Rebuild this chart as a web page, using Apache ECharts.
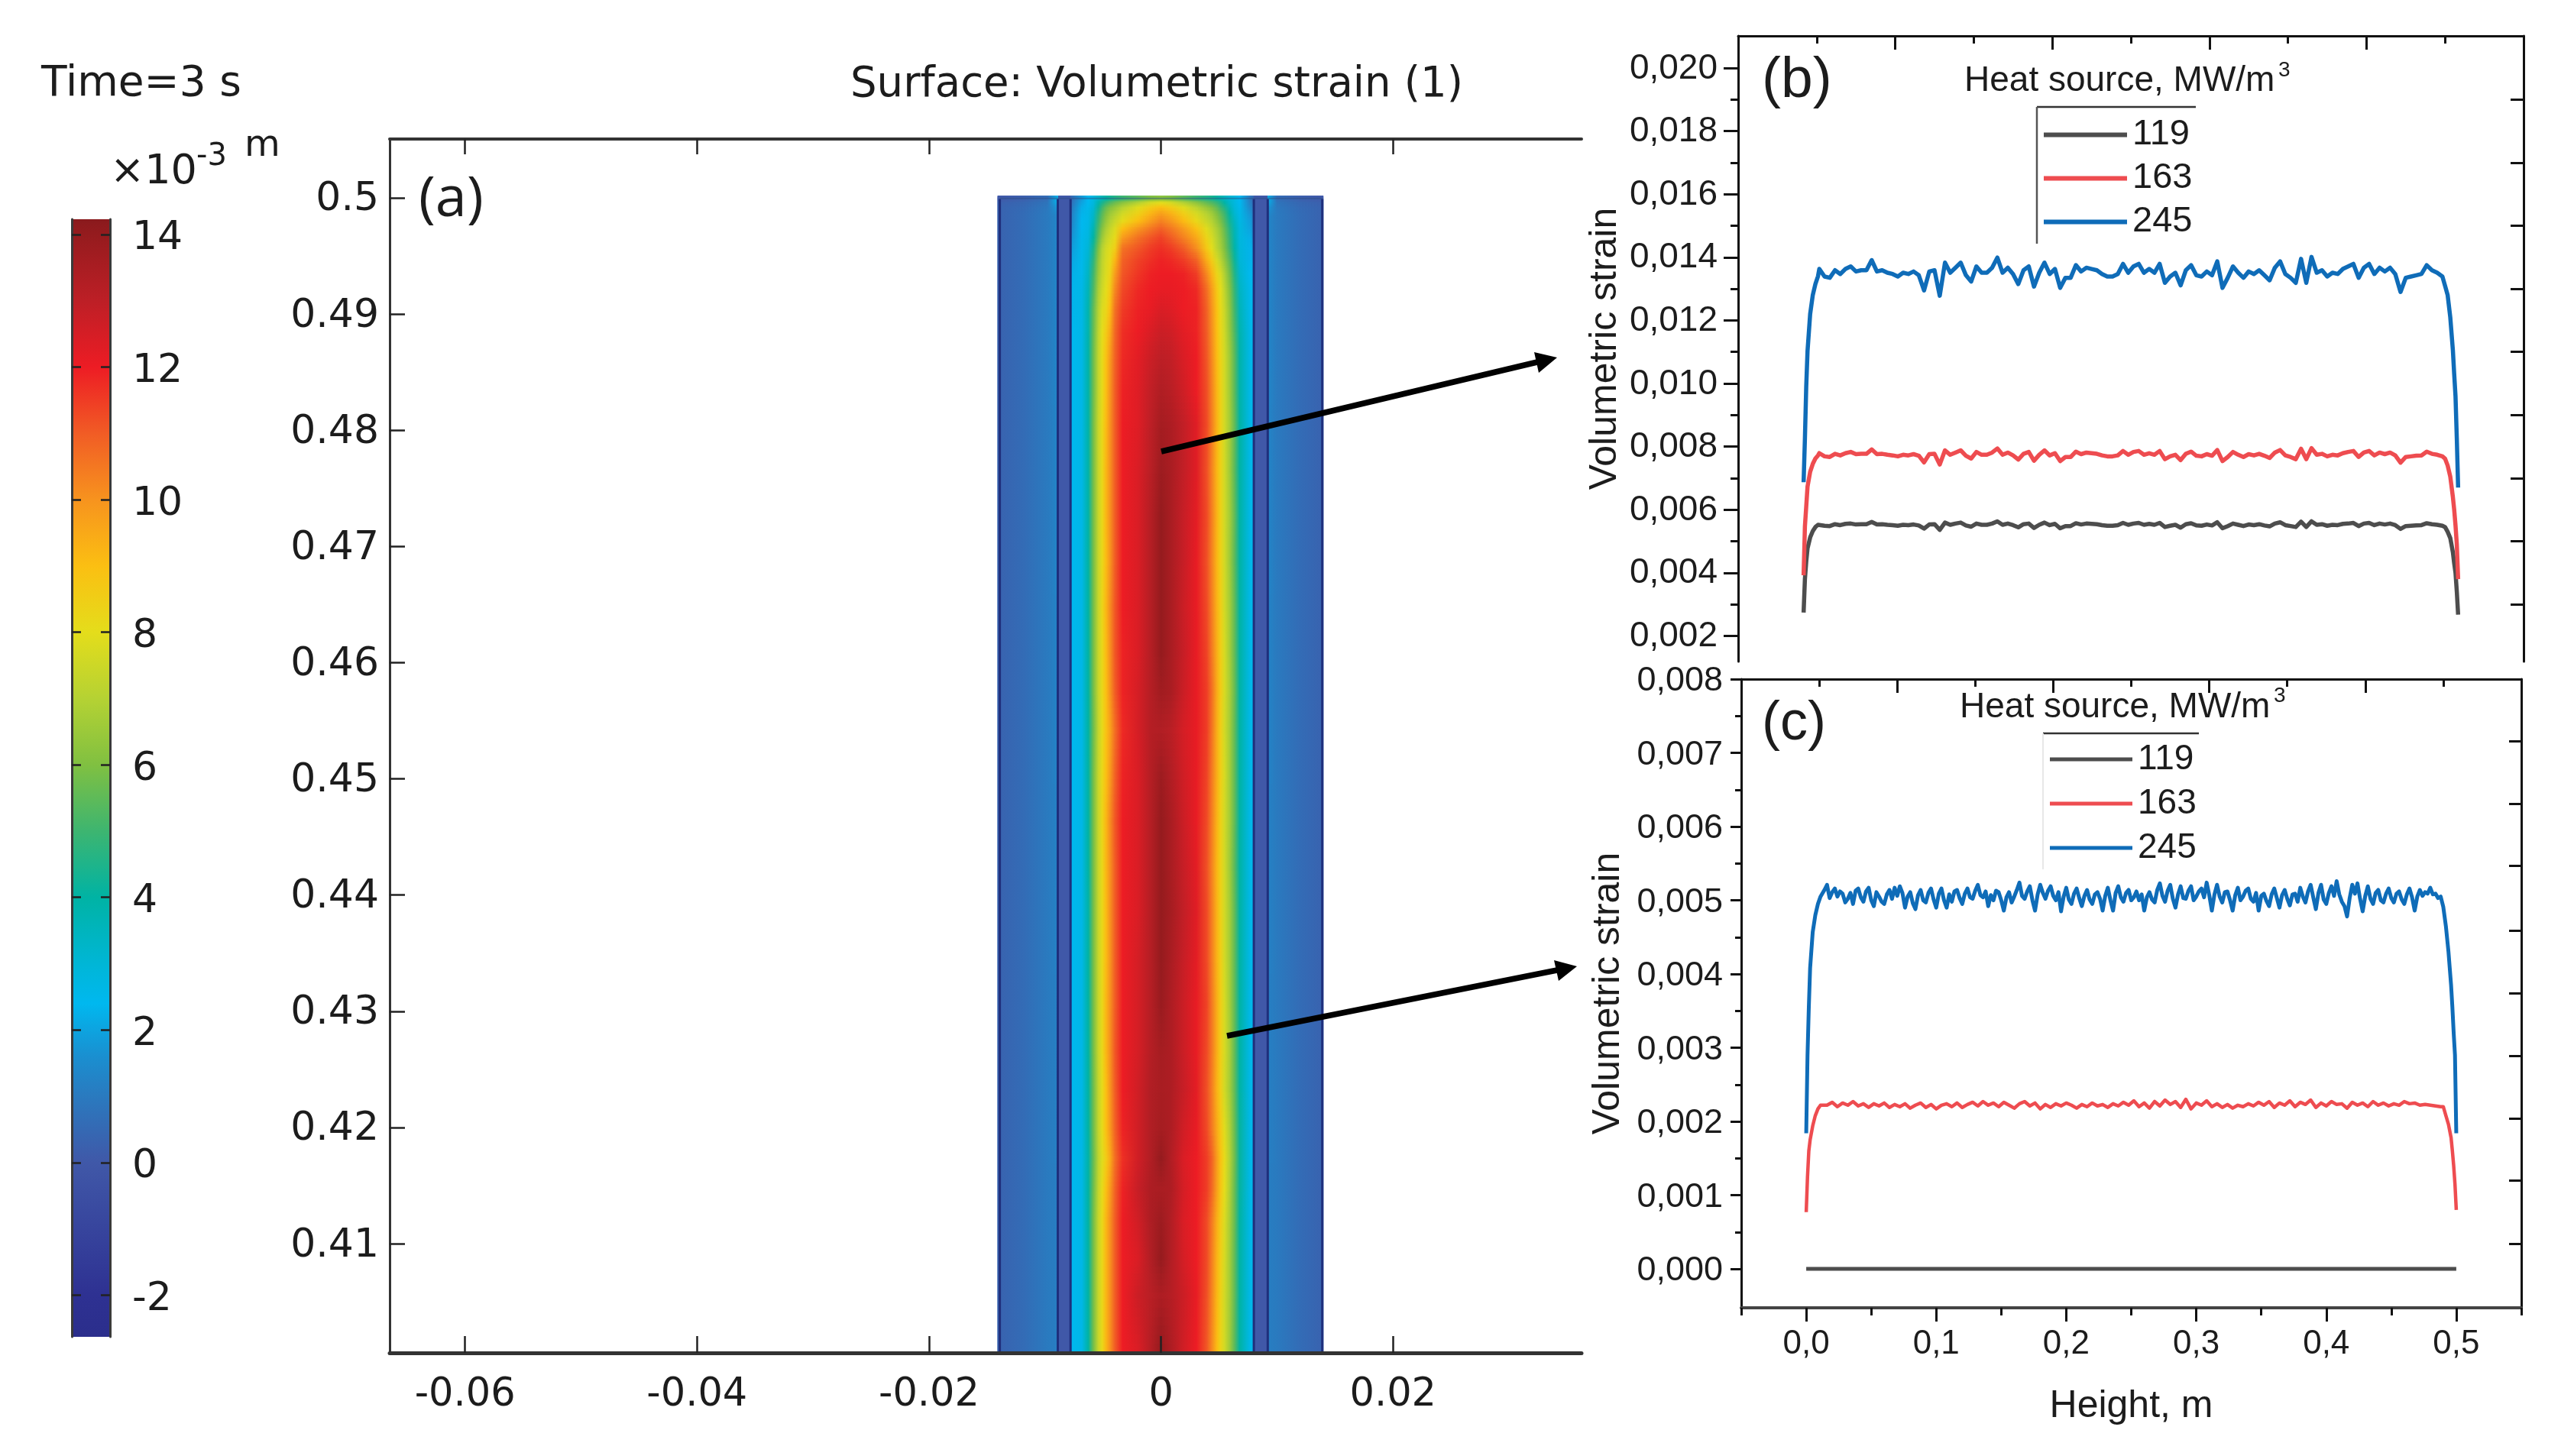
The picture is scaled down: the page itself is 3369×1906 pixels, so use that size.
<!DOCTYPE html>
<html>
<head>
<meta charset="utf-8">
<title>Volumetric strain</title>
<script src="https://cdn.jsdelivr.net/npm/echarts@6/dist/echarts.min.js"></script>
<style>html,body{margin:0;padding:0;background:#fff}#chart{width:3369px;height:1906px}</style>
</head>
<body>
<div id="chart"></div>
<script>
// line profiles, strain in units of 1e-3
var heights = [0,0.001,0.002,0.003,0.005,0.007,0.009,0.011,
0.012,0.016,0.02,0.024,0.028,0.032,0.036,0.04,0.044,0.048,
0.052,0.056,0.06,0.064,0.068,0.072,0.076,0.08,0.084,0.088,
0.092,0.096,0.1,0.104,0.108,0.112,0.116,0.12,0.124,0.128,
0.132,0.136,0.14,0.144,0.148,0.152,0.156,0.16,0.164,0.168,
0.172,0.176,0.18,0.184,0.188,0.192,0.196,0.2,0.204,0.208,
0.212,0.216,0.22,0.224,0.228,0.232,0.236,0.24,0.244,0.248,
0.252,0.256,0.26,0.264,0.268,0.272,0.276,0.28,0.284,0.288,
0.292,0.296,0.3,0.304,0.308,0.312,0.316,0.32,0.324,0.328,
0.332,0.336,0.34,0.344,0.348,0.352,0.356,0.36,0.364,0.368,
0.372,0.376,0.38,0.384,0.388,0.392,0.396,0.4,0.404,0.408,
0.412,0.416,0.42,0.424,0.428,0.432,0.436,0.44,0.444,0.448,
0.452,0.456,0.46,0.464,0.468,0.472,0.476,0.48,0.484,0.488,
0.49,0.492,0.494,0.496,0.497,0.498,0.499,0.5];

var heightsFine = [0,0.001,0.002,0.003,0.005,0.007,0.009,0.011,
0.012,0.014,0.016,0.018,0.02,0.022,0.024,0.026,0.028,0.03,0.032,0.034,0.036,0.038,0.04,0.042,0.044,0.046,0.048,0.05,
0.052,0.054,0.056,0.058,0.06,0.062,0.064,0.066,0.068,0.07,0.072,0.074,0.076,0.078,0.08,0.082,0.084,0.086,0.088,0.09,
0.092,0.094,0.096,0.098,0.1,0.102,0.104,0.106,0.108,0.11,0.112,0.114,0.116,0.118,0.12,0.122,0.124,0.126,0.128,0.13,
0.132,0.134,0.136,0.138,0.14,0.142,0.144,0.146,0.148,0.15,0.152,0.154,0.156,0.158,0.16,0.162,0.164,0.166,0.168,0.17,
0.172,0.174,0.176,0.178,0.18,0.182,0.184,0.186,0.188,0.19,0.192,0.194,0.196,0.198,0.2,0.202,0.204,0.206,0.208,0.21,
0.212,0.214,0.216,0.218,0.22,0.222,0.224,0.226,0.228,0.23,0.232,0.234,0.236,0.238,0.24,0.242,0.244,0.246,0.248,0.25,
0.252,0.254,0.256,0.258,0.26,0.262,0.264,0.266,0.268,0.27,0.272,0.274,0.276,0.278,0.28,0.282,0.284,0.286,0.288,0.29,
0.292,0.294,0.296,0.298,0.3,0.302,0.304,0.306,0.308,0.31,0.312,0.314,0.316,0.318,0.32,0.322,0.324,0.326,0.328,0.33,
0.332,0.334,0.336,0.338,0.34,0.342,0.344,0.346,0.348,0.35,0.352,0.354,0.356,0.358,0.36,0.362,0.364,0.366,0.368,0.37,
0.372,0.374,0.376,0.378,0.38,0.382,0.384,0.386,0.388,0.39,0.392,0.394,0.396,0.398,0.4,0.402,0.404,0.406,0.408,0.41,
0.412,0.414,0.416,0.418,0.42,0.422,0.424,0.426,0.428,0.43,0.432,0.434,0.436,0.438,0.44,0.442,0.444,0.446,0.448,0.45,
0.452,0.454,0.456,0.458,0.46,0.462,0.464,0.466,0.468,0.47,0.472,0.474,0.476,0.478,0.48,0.482,0.484,0.486,0.488,
0.49,0.492,0.494,0.496,0.497,0.498,0.499,0.5];

var strainB245 = [6.87,8.25,9.9,11.03,12.2,12.8,13.15,13.4,
13.63,13.39,13.35,13.59,13.47,13.63,13.71,13.55,13.59,13.59,
13.91,13.55,13.59,13.51,13.47,13.39,13.51,13.47,13.55,13.43,
12.95,13.55,13.59,12.78,13.83,13.51,13.67,13.83,13.43,13.23,
13.71,13.51,13.51,13.67,13.99,13.51,13.67,13.47,13.15,13.59,
13.71,13.07,13.51,13.83,13.47,13.63,13.03,13.35,13.35,13.75,
13.55,13.67,13.63,13.59,13.47,13.39,13.39,13.47,13.79,13.51,
13.71,13.79,13.51,13.63,13.51,13.79,13.19,13.39,13.51,13.11,
13.59,13.75,13.43,13.39,13.55,13.43,13.87,13.03,13.35,13.71,
13.51,13.35,13.55,13.47,13.59,13.43,13.27,13.67,13.87,13.47,
13.35,13.19,13.95,13.19,14.01,13.51,13.59,13.39,13.51,13.47,
13.63,13.71,13.79,13.35,13.67,13.79,13.47,13.67,13.55,13.67,
13.47,12.9,13.35,13.39,13.43,13.47,13.75,13.59,13.51,13.39,
13.1,12.8,12.1,11.05,10.3,9.6,8.25,6.7];

var strainB163 = [3.92,5.47,6.1,6.73,7.2,7.45,7.62,7.72,
7.79,7.69,7.67,7.77,7.72,7.79,7.83,7.76,7.77,7.77,
7.91,7.76,7.77,7.74,7.72,7.69,7.74,7.72,7.76,7.71,
7.5,7.76,7.77,7.43,7.88,7.74,7.81,7.88,7.71,7.62,
7.83,7.74,7.74,7.81,7.94,7.74,7.81,7.72,7.59,7.77,
7.83,7.55,7.74,7.88,7.72,7.79,7.54,7.67,7.67,7.84,
7.76,7.81,7.79,7.77,7.72,7.69,7.69,7.72,7.86,7.74,
7.83,7.86,7.74,7.79,7.74,7.86,7.6,7.69,7.74,7.57,
7.77,7.84,7.71,7.69,7.76,7.71,7.89,7.54,7.67,7.83,
7.74,7.67,7.76,7.72,7.77,7.71,7.64,7.81,7.89,7.72,
7.67,7.6,7.93,7.6,7.95,7.74,7.77,7.69,7.74,7.72,
7.79,7.83,7.86,7.67,7.81,7.86,7.72,7.81,7.76,7.81,
7.72,7.49,7.67,7.69,7.71,7.72,7.84,7.77,7.74,7.69,
7.62,7.4,7.05,6.4,6.0,5.5,4.9,3.8];

var strainB119 = [2.74,3.8,4.35,4.77,5.12,5.32,5.45,5.52,
5.55,5.49,5.48,5.54,5.51,5.55,5.56,5.53,5.54,5.54,
5.61,5.53,5.54,5.52,5.51,5.49,5.52,5.51,5.53,5.5,
5.4,5.53,5.54,5.36,5.59,5.52,5.56,5.59,5.5,5.46,
5.56,5.52,5.52,5.56,5.63,5.52,5.56,5.51,5.44,5.54,
5.56,5.42,5.52,5.59,5.51,5.55,5.41,5.48,5.48,5.57,
5.53,5.56,5.55,5.54,5.51,5.49,5.49,5.51,5.58,5.52,
5.56,5.58,5.52,5.55,5.52,5.58,5.45,5.49,5.52,5.43,
5.54,5.57,5.5,5.49,5.53,5.5,5.6,5.41,5.48,5.56,
5.52,5.48,5.53,5.51,5.54,5.5,5.47,5.56,5.6,5.51,
5.48,5.45,5.62,5.45,5.63,5.52,5.54,5.49,5.52,5.51,
5.55,5.56,5.58,5.48,5.56,5.58,5.51,5.56,5.53,5.56,
5.51,5.39,5.48,5.49,5.5,5.51,5.57,5.54,5.52,5.49,
5.45,5.3,5.1,4.65,4.3,4.0,3.4,2.67];

var strainC245 = [1.84,2.9,3.55,4.08,4.57,4.8,4.95,5.05,
5.05,5.14,5.21,5.03,5.11,5.16,5.05,5.12,5.09,4.97,5.02,5.1,4.95,5.13,5.16,5.04,4.98,5.12,5.17,5.0,
4.92,5.11,5.05,4.98,4.95,5.08,5.14,5.02,5.17,5.06,5.19,5.1,4.9,5.05,5.11,4.96,4.88,5.07,5.14,5.0,
4.97,5.1,5.16,5.01,4.9,5.09,5.16,5.0,4.9,5.08,4.98,5.12,5.14,5.03,4.95,5.09,5.16,5.04,5.02,5.13,
5.21,5.07,5.04,5.12,4.92,5.07,5.0,5.13,5.11,5.0,4.86,5.04,5.11,4.97,5.05,5.14,5.24,5.06,5.02,5.12,
5.19,5.0,4.86,5.08,5.21,5.1,5.02,5.13,5.19,5.06,5.0,5.11,4.85,5.05,5.17,5.01,4.95,5.09,5.16,5.03,
4.92,5.06,5.14,5.01,4.95,5.08,5.11,5.02,4.86,5.06,5.17,5.0,4.86,5.1,5.19,5.04,4.98,5.1,5.14,5.0,
5.04,5.12,5.0,5.08,4.86,5.04,5.11,5.01,4.97,5.14,5.23,5.06,4.98,5.13,5.21,5.02,4.9,5.08,5.19,5.03,
5.02,5.13,5.19,5.0,5.05,5.12,5.16,5.04,5.24,5.07,4.86,5.08,5.21,5.05,4.97,5.11,5.12,5.0,4.86,5.07,
5.17,5.0,5.05,5.13,5.16,5.02,4.98,5.1,4.86,5.06,5.09,4.99,4.92,5.08,5.16,5.03,4.9,5.07,5.14,5.02,
4.93,5.08,5.09,4.98,5.17,5.05,4.97,5.12,5.21,5.04,4.88,5.1,5.21,5.01,4.95,5.1,5.19,5.06,5.26,5.08,
4.98,4.92,4.78,5.03,5.21,5.09,5.23,5.02,4.85,5.06,5.19,5.02,4.95,5.1,5.14,5.0,4.97,5.09,5.16,5.03,
4.97,5.09,5.12,5.01,4.95,5.08,5.16,5.04,4.86,5.05,5.14,5.06,5.11,5.09,5.17,5.08,5.09,5.03,5.05,
4.91,4.65,4.3,3.85,3.55,3.2,2.9,1.84];

var strainC163 = [0.77,1.25,1.6,1.75,1.94,2.08,2.17,2.22,
2.24,2.22,2.26,2.2,2.25,2.22,2.27,2.21,2.24,2.19,
2.24,2.21,2.25,2.19,2.23,2.2,2.24,2.18,2.22,2.25,
2.19,2.23,2.17,2.22,2.24,2.2,2.25,2.19,2.23,2.26,
2.21,2.27,2.22,2.25,2.2,2.26,2.22,2.18,2.24,2.27,
2.21,2.25,2.17,2.23,2.19,2.24,2.21,2.25,2.22,2.18,
2.23,2.2,2.25,2.21,2.23,2.19,2.24,2.21,2.26,2.22,
2.28,2.2,2.25,2.18,2.27,2.21,2.29,2.23,2.27,2.19,
2.3,2.17,2.25,2.22,2.28,2.2,2.24,2.19,2.23,2.18,
2.22,2.2,2.24,2.21,2.26,2.22,2.27,2.19,2.25,2.22,
2.28,2.2,2.26,2.23,2.29,2.19,2.25,2.21,2.27,2.23,
2.24,2.18,2.26,2.22,2.25,2.2,2.27,2.22,2.25,2.21,
2.24,2.22,2.27,2.24,2.25,2.22,2.23,2.22,2.21,2.2,
2.2,2.08,1.96,1.78,1.6,1.4,1.15,0.8];

var heightsEnds = [0,0.5];
var strainC119 = [0,0];

var legendNames = ['119','163','245'];

// surface plot: x (m), y (m), strain in units of 1e-3
var coreX = [-0.0078,-0.00683,-0.00628,-0.00584,-0.0054,-0.00507,-0.00474,-0.00441,-0.00397,-0.00331,-0.002,-0.0009,0,
0.00086,0.00196,0.00305,0.00393,0.00437,0.00481,0.00514,0.00547,0.00591,0.00635,0.00678,0.00766,0.008];
var coreY = [0.5002,0.49987,0.49954,0.49915,0.49862,0.49796,0.4973,0.49652,0.4956,0.49454,0.49336,0.49205,0.4904,
0.48843,0.48613,0.4835,0.48021,0.47627,0.47232,0.46838,0.46443,0.46049,0.4572,0.45391,0.44997,0.44603,0.44208,
0.43814,0.43419,0.43025,0.42631,0.42302,0.41973,0.4171,0.41447,0.41184,0.40855,0.40527,0.4006];
var coreValues = [
[0.4,1.8,2.4,2.8,3.3,3.7,4.0,4.3,4.6,5.0,5.5,6.0,6.2,6.0,5.5,5.0,4.6,4.4,4.1,3.8,3.5,3.1,2.8,2.4,1.0,0.4],
[0.6,2.0,2.4,2.8,3.8,4.4,4.9,5.3,5.7,6.2,7.0,7.7,8.0,7.7,7.0,6.3,5.6,5.3,4.9,4.5,4.0,3.3,2.8,2.4,1.2,0.6],
[0.8,2.2,2.5,3.0,4.2,5.0,5.6,6.0,6.4,7.0,7.9,8.6,9.0,8.6,7.9,7.1,6.4,6.0,5.5,5.0,4.5,3.6,2.9,2.5,1.4,0.8],
[1.0,2.3,2.6,3.2,4.6,5.4,6.0,6.5,6.9,7.6,8.4,9.2,9.7,9.3,8.5,7.7,7.0,6.6,6.0,5.5,5.0,4.0,3.1,2.6,1.7,1.0],
[1.1,2.4,2.6,3.4,4.9,5.7,6.4,6.9,7.4,8.1,9.0,9.8,10.3,9.9,9.1,8.2,7.4,7.0,6.4,5.9,5.3,4.3,3.4,2.7,1.9,1.1],
[1.3,2.4,2.7,3.7,5.2,6.1,6.8,7.3,7.8,9.0,9.9,10.5,10.9,10.5,9.8,8.9,7.9,7.4,6.8,6.3,5.6,4.6,3.6,2.8,2.0,1.3],
[1.6,2.5,2.8,4.0,5.5,6.5,7.2,7.6,8.1,9.8,10.6,11.1,11.4,11.0,10.3,9.5,8.3,7.7,7.0,6.5,5.8,4.8,3.7,2.8,2.2,1.6],
[1.8,2.5,3.0,4.4,6.0,7.0,7.6,7.9,8.5,10.6,11.1,11.5,11.7,11.5,11.0,10.1,8.7,8.0,7.2,6.7,6.0,5.0,3.9,2.9,2.3,2.0],
[2.0,2.5,3.2,4.7,6.3,7.2,7.7,8.1,9.2,10.9,11.4,11.7,11.9,11.8,11.5,10.9,9.4,8.6,7.7,7.1,6.4,5.4,4.2,3.0,2.3,2.2],
[2.2,2.5,3.4,5.0,6.5,7.3,7.8,8.3,9.8,11.1,11.6,11.9,12.0,12.0,11.9,11.5,10.2,9.3,8.3,7.7,6.9,5.8,4.5,3.2,2.4,2.3],
[2.3,2.6,3.6,5.2,6.8,7.5,8.0,8.6,10.2,11.3,11.8,12.0,12.1,12.1,12.0,11.8,10.7,9.8,8.7,8.0,7.2,6.1,4.8,3.4,2.5,2.4],
[2.3,2.6,3.8,5.5,7.0,7.8,8.2,9.0,10.6,11.5,11.9,12.1,12.4,12.3,12.0,11.9,10.9,10.0,8.9,8.1,7.4,6.3,5.0,3.6,2.5,2.4],
[2.4,2.6,3.8,5.6,7.2,8.0,8.6,9.4,10.8,11.7,12.0,12.4,12.7,12.6,12.2,11.9,11.0,10.1,9.0,8.2,7.5,6.4,5.2,3.8,2.6,2.4],
[2.4,2.6,3.9,5.7,7.3,8.1,8.9,9.8,10.9,11.8,12.2,12.7,13.0,12.9,12.4,12.0,11.1,10.2,9.1,8.3,7.6,6.6,5.4,3.9,2.6,2.4],
[2.4,2.6,3.9,5.7,7.3,8.1,9.0,9.9,11.0,11.9,12.3,12.9,13.3,13.1,12.6,12.0,11.2,10.3,9.2,8.4,7.6,6.6,5.4,3.9,2.6,2.4],
[2.4,2.6,3.9,5.8,7.4,8.2,9.1,10.0,11.0,12.0,12.3,13.0,13.6,13.4,12.9,12.3,11.3,10.4,9.3,8.4,7.6,6.7,5.5,4.0,2.6,2.4],
[2.4,2.6,3.9,5.8,7.4,8.2,9.2,10.0,11.0,12.0,12.4,13.1,13.8,13.5,12.9,12.3,11.2,10.3,9.2,8.4,7.6,6.6,5.4,4.0,2.6,2.4],
[2.4,2.6,3.9,5.8,7.4,8.2,9.2,10.0,11.0,12.0,12.4,13.2,14.0,13.5,12.8,12.2,11.3,10.4,9.3,8.4,7.6,6.7,5.5,4.0,2.6,2.4],
[2.4,2.6,4.0,5.8,7.4,8.2,9.1,9.9,11.0,12.0,12.4,13.2,14.0,13.5,12.8,12.1,11.2,10.3,9.2,8.4,7.6,6.6,5.4,4.0,2.6,2.4],
[2.4,2.6,4.0,5.8,7.4,8.3,9.2,10.1,11.1,12.0,12.4,13.2,14.0,13.5,12.7,12.1,11.3,10.4,9.3,8.5,7.6,6.7,5.5,4.0,2.6,2.4],
[2.4,2.6,4.0,5.8,7.4,8.2,9.1,10.0,11.1,11.9,12.4,13.2,14.0,13.5,12.8,12.1,11.4,10.5,9.4,8.5,7.7,6.7,5.5,4.0,2.6,2.4],
[2.4,2.6,4.0,5.8,7.4,8.2,9.0,9.9,11.0,11.9,12.5,13.2,13.7,13.5,12.7,12.1,11.5,10.7,9.5,8.6,7.7,6.8,5.6,4.0,2.6,2.4],
[2.4,2.6,4.0,5.7,7.3,8.1,8.9,9.6,10.7,11.8,12.5,13.2,13.3,13.1,12.5,12.1,11.5,10.6,9.4,8.5,7.6,6.7,5.5,4.0,2.6,2.4],
[2.4,2.6,4.0,5.8,7.4,8.2,9.0,9.8,10.9,11.9,12.4,13.2,13.8,13.3,12.6,12.1,11.4,10.5,9.4,8.5,7.7,6.7,5.5,4.0,2.6,2.4],
[2.4,2.6,4.0,5.8,7.4,8.3,9.2,10.1,11.1,12.0,12.4,13.2,14.0,13.5,12.7,12.1,11.3,10.4,9.3,8.4,7.6,6.7,5.5,4.0,2.6,2.4],
[2.4,2.6,4.0,5.8,7.4,8.2,9.2,10.0,11.0,12.0,12.4,13.2,14.0,13.5,12.8,12.2,11.2,10.3,9.2,8.4,7.6,6.6,5.4,4.0,2.6,2.4],
[2.4,2.6,3.9,5.8,7.4,8.2,9.1,10.0,11.0,12.0,12.4,13.2,14.0,13.6,12.9,12.3,11.3,10.4,9.3,8.4,7.6,6.7,5.5,4.0,2.6,2.4],
[2.4,2.6,4.0,5.8,7.4,8.2,9.1,9.9,11.0,12.0,12.5,13.2,14.0,13.5,12.8,12.2,11.3,10.4,9.3,8.5,7.6,6.7,5.5,4.0,2.6,2.4],
[2.4,2.6,4.0,5.8,7.4,8.2,9.2,10.0,11.0,12.0,12.5,13.2,13.9,13.4,12.7,12.1,11.4,10.5,9.4,8.5,7.7,6.7,5.5,4.0,2.6,2.4],
[2.4,2.6,4.0,5.8,7.4,8.2,9.2,10.0,11.1,12.0,12.5,13.2,13.6,13.4,12.7,12.1,11.3,10.5,9.4,8.5,7.7,6.8,5.5,4.0,2.6,2.4],
[2.4,2.6,4.0,5.7,7.3,8.1,9.0,9.9,11.0,12.0,12.6,13.3,13.5,13.4,12.8,12.2,11.2,10.4,9.3,8.5,7.6,6.7,5.5,4.0,2.6,2.4],
[2.4,2.6,4.0,5.7,7.3,8.1,9.0,9.8,10.9,11.9,12.6,13.3,13.6,13.4,12.6,12.1,11.3,10.5,9.5,8.7,7.9,6.9,5.6,4.1,2.6,2.4],
[2.4,2.6,3.9,5.6,7.2,7.9,8.6,9.4,10.7,11.7,12.6,13.3,14.0,13.3,12.4,12.0,11.5,10.9,9.8,8.9,8.1,7.0,5.7,4.1,2.6,2.4],
[2.4,2.6,4.0,5.7,7.3,8.1,9.0,9.8,10.9,11.9,12.8,13.4,13.5,13.4,12.5,12.0,11.5,10.8,9.7,8.8,8.0,6.9,5.6,4.1,2.6,2.4],
[2.4,2.6,4.0,5.8,7.4,8.2,9.2,10.0,11.0,12.0,12.6,13.4,13.8,13.3,12.4,12.0,11.3,10.5,9.4,8.6,7.8,6.8,5.6,4.0,2.6,2.4],
[2.4,2.6,4.0,5.8,7.4,8.2,9.2,10.0,11.0,12.0,12.4,13.3,14.0,13.3,12.5,12.0,11.3,10.4,9.3,8.5,7.7,6.7,5.5,4.0,2.6,2.4],
[2.4,2.6,4.0,5.8,7.4,8.2,9.2,10.0,11.0,12.0,12.7,13.1,13.4,13.2,12.7,12.1,11.2,10.3,9.2,8.4,7.6,6.7,5.5,4.0,2.6,2.4],
[2.4,2.6,4.0,5.8,7.4,8.2,9.2,10.0,11.0,12.0,12.4,13.2,14.0,13.4,12.6,12.0,11.1,10.2,9.1,8.3,7.6,6.6,5.4,4.0,2.6,2.4]
];

// blocks either side of the core, top rows carry the small corner spots
var outerX = [-0.0141,-0.0118,-0.0098,-0.0089,-0.0089,-0.0078,-0.0078,0.008,0.008,0.0092,0.0092,0.01,0.012,0.014];
var outerY = [0.5002,0.4999,0.4996,0.4992,0.4985,0.4006];
var outerValues = [
[0.0,0.2,0.6,2.2,0,0,0,0,0,0,2.2,0.6,0.2,0.0],
[0.2,0.4,0.8,2.2,0,0,0,0,0,0,2.2,0.8,0.4,0.2],
[0.3,0.5,0.9,1.8,0,0,0,0,0,0,1.8,0.9,0.5,0.3],
[0.3,0.6,1.0,1.4,0,0,0,0,0,0,1.4,1.0,0.6,0.3],
[0.3,0.6,1.0,1.1,0,0,0,0,0,0,1.1,1.0,0.6,0.3]
];
var domainX = [-0.0139,-0.0089,-0.0078,0.008,0.0092,0.0139];

var cmapValues = [-2.63,-2,0,1,1.6,2.4,3,4,5,6,7,8,9,10,11,12,13,14,14.23];
var cmapColors = ['#2b2e8c','#2e3192','#4058a8','#2a7abf','#1a8fd0','#00b8ef','#00b6d6','#00b3a4','#3db570','#80c041',
'#b5d233','#e4dd1b','#fbbf12','#f7931e','#f15c25','#ed1c24','#bd1f26','#951b1e','#8a1a1d'];

// tick labels and tick positions
var surfaceXTicks = [-0.06,-0.04,-0.02,0,0.02];
var surfaceYTicks = [0.41,0.42,0.43,0.44,0.45,0.46,0.47,0.48,0.49,0.5];
var colorbarTicks = [-2,0,2,4,6,8,10,12,14];
var bMajorTicks = [2,4,6,8,10,12,14,16,18,20];
var bMinorTicks = [3,5,7,9,11,13,15,17,19];
var cMajorTicks = [0,1,2,3,4,5,6,7,8];
var cMinorTicks = [0.5,1.5,2.5,3.5,4.5,5.5,6.5,7.5];
var cRightTicks = [0.34,1.2,2.04,2.89,3.74,4.59,5.47,6.31,7.16];
var heightTicks = [0,0.1,0.2,0.3,0.4,0.5];
var heightMinorTicks = [-0.05,0.05,0.15,0.25,0.35,0.45,0.55];
var topLongTicks = [0.07,0.19,0.31,0.43];
var topShortTicks = [0.01,0.13,0.25,0.37,0.49];

function colorAt(v) {
  var i = 0;
  while (i < cmapValues.length - 2 && v > cmapValues[i + 1]) i++;
  var t = (v - cmapValues[i]) / (cmapValues[i + 1] - cmapValues[i]);
  t = Math.max(0, Math.min(1, t));
  return echarts.color.lerp(t, [cmapColors[i], cmapColors[i + 1]]);
}

// one rect per row of the field, gradient across the columns.
// step > 0 redraws the rows a fraction lower, see SOFTEN_PASSES
function fieldSeries(xs, ys, rows, step) {
  var span = xs[xs.length - 1] - xs[0];
  var f = step / SOFTEN_PASSES;
  function rowTop(i) {
    return i >= rows.length ? ys[rows.length] : ys[i] + f * (ys[i + 1] - ys[i]);
  }
  return {
    type: 'custom', xAxisIndex: 0, yAxisIndex: 0, silent: true, z: 2,
    data: rows.map(function (r, i) { return [xs[0], ys[i]]; }),
    renderItem: function (params, api) {
      var i = params.dataIndex;
      var a = api.coord([xs[0], rowTop(i)]);
      var b = api.coord([xs[xs.length - 1], rowTop(i + 1)]);
      var y0 = Math.round(a[1]), y1 = Math.round(b[1]);
      var stops = xs.map(function (x, k) {
        return {offset: (x - xs[0]) / span, color: colorAt(rows[i][k])};
      });
      return {
        type: 'rect',
        shape: {x: a[0], y: y0, width: b[0] - a[0], height: y1 - y0},
        style: {fill: new echarts.graphic.LinearGradient(0, 0, 1, 0, stops), opacity: 1 / (step + 1)}
      };
    }
  };
}

// stacked translucent redraws of the rows so that they blend into each other vertically
var SOFTEN_PASSES = 6;
function softField(xs, ys, rows) {
  var out = [];
  for (var k = 0; k < SOFTEN_PASSES; k++) out.push(fieldSeries(xs, ys, rows, k));
  return out;
}

function zip(xs, ys) {
  return xs.map(function (x, i) { return [x, ys[i]]; });
}

function lineSeries(name, xAxis, yAxis, xs, ys, color, width) {
  return {
    name: name, type: 'line', xAxisIndex: xAxis, yAxisIndex: yAxis, data: zip(xs, ys),
    showSymbol: false, symbol: 'none', animation: false, z: 3,
    lineStyle: {color: color, width: width, join: 'round'}, itemStyle: {color: color}
  };
}

var COMSOL_FONT = 'DejaVu Sans';
var PLOT_FONT = 'Liberation Sans';
var INK = '#1c1c1c';

function tickOnly(extra) {
  // an axis that only draws ticks at custom values
  var axis = {
    type: 'value', z: 5, splitLine: {show: false},
    axisLine: {show: false, onZero: false},
    axisLabel: {show: false},
    axisTick: {show: true, lineStyle: {color: '#111', width: 3}}
  };
  return echarts.util.merge(axis, extra, true);
}

function strainLabel(v) {
  return '{gap| }\n{t|' + (v / 1000).toFixed(3).replace('.', ',') + '}';
}

// labels sit a little below their ticks in the reference: a thin blank line above pushes them down
function loweredRich(px, font, size) {
  return {
    gap: {fontSize: 1, lineHeight: px * 2},
    t: {fontFamily: font, fontSize: size, lineHeight: size, color: INK}
  };
}

var xRangeA = {min: -0.0665, max: 0.03625};
var yRangeA = {min: 0.4006, max: 0.50506};
var yRangeB = {min: 1.186, max: 21.017};
var yRangeC = {min: -0.528, max: 8};
var xRangeBC = {min: -0.05, max: 0.55};

var xAxes = [
  // panel a
  {gridIndex: 0, type: 'value', position: 'bottom', min: xRangeA.min, max: xRangeA.max, z: 5, splitLine: {show: false},
    axisLine: {onZero: false, lineStyle: {color: '#333', width: 5}},
    axisTick: {inside: true, length: 22, customValues: surfaceXTicks, lineStyle: {color: '#222', width: 2.5}},
    axisLabel: {customValues: surfaceXTicks, margin: 30, fontFamily: COMSOL_FONT, fontSize: 51, color: INK,
      formatter: function (v) { return String(v); }}},
  {gridIndex: 0, type: 'value', position: 'top', min: xRangeA.min, max: xRangeA.max, z: 5, splitLine: {show: false},
    axisLine: {onZero: false, lineStyle: {color: '#333', width: 4}},
    axisTick: {inside: true, length: 20, customValues: surfaceXTicks, lineStyle: {color: '#222', width: 2.5}},
    axisLabel: {show: false}},
  // colour bar
  {gridIndex: 1, type: 'value', min: 0, max: 1, show: false},
  // panel b
  {gridIndex: 2, type: 'value', position: 'bottom', min: xRangeBC.min, max: xRangeBC.max, show: false},
  tickOnly({gridIndex: 2, position: 'top', min: xRangeBC.min, max: xRangeBC.max,
    axisLine: {show: true, onZero: false, lineStyle: {color: '#111', width: 3}},
    axisTick: {inside: true, length: 10, customValues: topShortTicks}}),
  tickOnly({gridIndex: 2, position: 'top', min: xRangeBC.min, max: xRangeBC.max,
    axisTick: {inside: true, length: 18, customValues: topLongTicks}}),
  // panel c
  {gridIndex: 3, type: 'value', position: 'bottom', min: xRangeBC.min, max: xRangeBC.max, z: 5, splitLine: {show: false},
    name: 'Height, m', nameLocation: 'middle', nameGap: 104,
    nameTextStyle: {fontFamily: PLOT_FONT, fontSize: 50, color: INK},
    axisLine: {onZero: false, lineStyle: {color: '#444', width: 4}},
    axisTick: {length: 18, customValues: heightTicks, lineStyle: {color: '#111', width: 3}},
    axisLabel: {customValues: heightTicks, margin: 26, fontFamily: PLOT_FONT, fontSize: 44, color: INK,
      formatter: function (v) { return v.toFixed(1).replace('.', ','); }}},
  tickOnly({gridIndex: 3, position: 'bottom', min: xRangeBC.min, max: xRangeBC.max,
    axisTick: {length: 10, customValues: heightMinorTicks}}),
  tickOnly({gridIndex: 3, position: 'top', min: xRangeBC.min, max: xRangeBC.max,
    axisLine: {show: true, onZero: false, lineStyle: {color: '#111', width: 3}},
    axisTick: {inside: true, length: 10, customValues: topShortTicks}}),
  tickOnly({gridIndex: 3, position: 'top', min: xRangeBC.min, max: xRangeBC.max,
    axisTick: {inside: true, length: 18, customValues: topLongTicks}})
];

var yAxes = [
  // panel a
  {gridIndex: 0, type: 'value', position: 'left', min: yRangeA.min, max: yRangeA.max, z: 5, splitLine: {show: false},
    axisLine: {onZero: false, lineStyle: {color: '#333', width: 3}},
    axisTick: {inside: true, length: 20, customValues: surfaceYTicks, lineStyle: {color: '#222', width: 2.5}},
    axisLabel: {customValues: surfaceYTicks, margin: 14, rich: loweredRich(3, COMSOL_FONT, 52),
      formatter: function (v) { return '{gap| }\n{t|' + v + '}'; }}},
  // colour bar
  {gridIndex: 1, type: 'value', position: 'right', min: -2.63, max: 14.23, z: 5, splitLine: {show: false},
    axisLine: {onZero: false, lineStyle: {color: '#3a3a3a', width: 3}},
    axisTick: {inside: true, length: 12, customValues: colorbarTicks, lineStyle: {color: '#222', width: 2.5}},
    axisLabel: {customValues: colorbarTicks, margin: 29, rich: loweredRich(6, COMSOL_FONT, 52),
      formatter: function (v) { return '{gap| }\n{t|' + v + '}'; }}},
  {gridIndex: 1, type: 'value', position: 'left', min: -2.63, max: 14.23, z: 5, splitLine: {show: false},
    axisLine: {onZero: false, lineStyle: {color: '#3a3a3a', width: 3}},
    axisTick: {inside: true, length: 12, customValues: colorbarTicks, lineStyle: {color: '#222', width: 2.5}},
    axisLabel: {show: false}},
  // panel b
  {gridIndex: 2, type: 'value', position: 'left', min: yRangeB.min, max: yRangeB.max, z: 5, splitLine: {show: false},
    name: 'Volumetric strain', nameLocation: 'middle', nameGap: 149,
    nameTextStyle: {fontFamily: PLOT_FONT, fontSize: 50, color: INK},
    axisLine: {onZero: false, lineStyle: {color: '#111', width: 3}},
    axisTick: {length: 19, customValues: bMajorTicks, lineStyle: {color: '#111', width: 3}},
    axisLabel: {customValues: bMajorTicks, margin: 27, rich: loweredRich(1, PLOT_FONT, 46), formatter: strainLabel}},
  tickOnly({gridIndex: 2, position: 'left', min: yRangeB.min, max: yRangeB.max,
    axisTick: {length: 10, customValues: bMinorTicks}}),
  tickOnly({gridIndex: 2, position: 'right', min: yRangeB.min, max: yRangeB.max,
    axisLine: {show: true, onZero: false, lineStyle: {color: '#111', width: 3}},
    axisTick: {inside: true, length: 17, customValues: bMinorTicks}}),
  // panel c
  {gridIndex: 3, type: 'value', position: 'left', min: yRangeC.min, max: yRangeC.max, z: 5, splitLine: {show: false},
    name: 'Volumetric strain', nameLocation: 'middle', nameGap: 149,
    nameTextStyle: {fontFamily: PLOT_FONT, fontSize: 50, color: INK},
    axisLine: {onZero: false, lineStyle: {color: '#111', width: 3}},
    axisTick: {length: 14, customValues: cMajorTicks, lineStyle: {color: '#111', width: 3}},
    axisLabel: {customValues: cMajorTicks, margin: 24, rich: loweredRich(3, PLOT_FONT, 45), formatter: strainLabel}},
  tickOnly({gridIndex: 3, position: 'left', min: yRangeC.min, max: yRangeC.max,
    axisTick: {length: 8, customValues: cMinorTicks}}),
  tickOnly({gridIndex: 3, position: 'right', min: yRangeC.min, max: yRangeC.max,
    axisLine: {show: true, onZero: false, lineStyle: {color: '#111', width: 3}},
    axisTick: {inside: true, length: 16, customValues: cRightTicks}})
];

function textEl(text, x, y, size, font, extra) {
  return {
    type: 'text', x: x, y: y, z: 20, silent: true,
    style: Object.assign({text: text, fontFamily: font, fontSize: size, fill: INK, textAlign: 'left', textVerticalAlign: 'middle'}, extra || {})
  };
}

function lineEl(x1, y1, x2, y2, color, width) {
  return {type: 'line', z: 18, silent: true, shape: {x1: x1, y1: y1, x2: x2, y2: y2}, style: {stroke: color, lineWidth: width}};
}

function arrowHead(points) {
  return {type: 'polygon', z: 19, silent: true, shape: {points: points}, style: {fill: '#000'}};
}

var legendColors = ['#4d4d4d', '#ee4c50', '#0f6cb8'];

var option = {
  animation: false,
  backgroundColor: '#fff',
  grid: [
    {left: 510, top: 182, width: 1560, height: 1589},
    {left: 94, top: 287, width: 50, height: 1463},
    {left: 2275, top: 47, width: 1028, height: 819},
    {left: 2279, top: 889, width: 1021, height: 823}
  ],
  xAxis: xAxes,
  yAxis: yAxes,
  legend: [
    {orient: 'vertical', left: 2670, top: 148, icon: 'rect', itemWidth: 109, itemHeight: 6, itemGap: 10, selectedMode: false,
      data: legendNames, textStyle: {fontFamily: PLOT_FONT, fontSize: 47, color: INK, padding: [0, 0, 0, 2]}},
    {orient: 'vertical', left: 2678, top: 966, icon: 'rect', itemWidth: 108, itemHeight: 5, itemGap: 12, selectedMode: false,
      data: legendNames, textStyle: {fontFamily: PLOT_FONT, fontSize: 46, color: INK, padding: [0, 0, 0, 2]}}
  ],
  series: softField(outerX, outerY, outerValues).concat(softField(coreX, coreY, coreValues), [
    {
      type: 'custom', xAxisIndex: 0, yAxisIndex: 0, silent: true, z: 3,
      data: domainX.map(function (x) { return [x, yRangeA.min]; }),
      renderItem: function (params, api) {
        var p0 = api.coord([api.value(0), 0.4999]);
        var p1 = api.coord([api.value(0), yRangeA.min]);
        return {type: 'line', shape: {x1: p0[0], y1: p0[1], x2: p1[0], y2: p1[1]}, style: {stroke: '#1f2f7c', lineWidth: 3}};
      }
    },
    {
      type: 'custom', xAxisIndex: 0, yAxisIndex: 0, silent: true, z: 3,
      data: [[domainX[0], 0.49985]],
      renderItem: function (params, api) {
        var p0 = api.coord([domainX[0], 0.49995]);
        var p1 = api.coord([domainX[domainX.length - 1], 0.49995]);
        return {type: 'line', shape: {x1: p0[0], y1: p0[1], x2: p1[0], y2: p1[1]}, style: {stroke: '#2a4a7c', lineWidth: 2, opacity: 0.45}};
      }
    },
    {
      type: 'custom', xAxisIndex: 2, yAxisIndex: 1, silent: true, z: 2,
      data: [[0, 14.23]],
      renderItem: function (params, api) {
        var a = api.coord([0, 14.23]);
        var b = api.coord([1, -2.63]);
        var stops = cmapValues.map(function (v, i) {
          return {offset: (14.23 - v) / (14.23 + 2.63), color: cmapColors[i]};
        }).reverse();
        return {type: 'rect', shape: {x: a[0], y: a[1], width: b[0] - a[0], height: b[1] - a[1]},
          style: {fill: new echarts.graphic.LinearGradient(0, 0, 0, 1, stops)}};
      }
    },
    lineSeries('119', 3, 3, heights, strainB119, legendColors[0], 5.5),
    lineSeries('163', 3, 3, heights, strainB163, legendColors[1], 5.5),
    lineSeries('245', 3, 3, heights, strainB245, legendColors[2], 5.5),
    lineSeries('119', 6, 6, heightsEnds, strainC119, legendColors[0], 5),
    lineSeries('163', 6, 6, heights, strainC163, legendColors[1], 4.5),
    lineSeries('245', 6, 6, heightsFine, strainC245, legendColors[2], 5)
  ]),
  graphic: {elements: [
    textEl('Time=3 s', 54, 111, 55, COMSOL_FONT),
    textEl('Surface: Volumetric strain (1)', 1113, 112, 54.5, COMSOL_FONT),
    textEl('\u00d710', 144, 226, 54, COMSOL_FONT),
    textEl('-3', 257, 206, 40, COMSOL_FONT),
    textEl('m', 320, 192, 48, COMSOL_FONT),
    textEl('(a)', 548, 262, 74, 'Open Sans'),
    textEl('(b)', 2306, 106, 75, PLOT_FONT),
    textEl('(c)', 2306, 948, 72, PLOT_FONT),
    textEl('Heat source, MW/m', 2571, 106, 46, PLOT_FONT),
    textEl('3', 2982, 92, 28, PLOT_FONT),
    textEl('Heat source, MW/m', 2565, 926, 46, PLOT_FONT),
    textEl('3', 2976, 911, 28, PLOT_FONT),
    lineEl(2666, 140, 2874, 140, '#333', 2.5),
    lineEl(2666, 140, 2666, 319, '#555', 2.5),
    lineEl(2674, 960, 2878, 960, '#333', 2.5),
    lineEl(2674, 960, 2674, 1138, '#e8e8e8', 2),
    // arrows from the surface plot to the profile panels
    lineEl(1520, 591, 2012, 474, '#000', 7.5),
    arrowHead([[2038, 468], [2014, 488], [2008, 461]]),
    lineEl(1606, 1356, 2038, 1270, '#000', 7.5),
    arrowHead([[2064, 1265], [2040, 1284], [2034, 1257]])
  ]}
};

var chart = echarts.init(document.getElementById('chart'), null, {width: 3369, height: 1906});
chart.setOption(option);
</script>
</body>
</html>
